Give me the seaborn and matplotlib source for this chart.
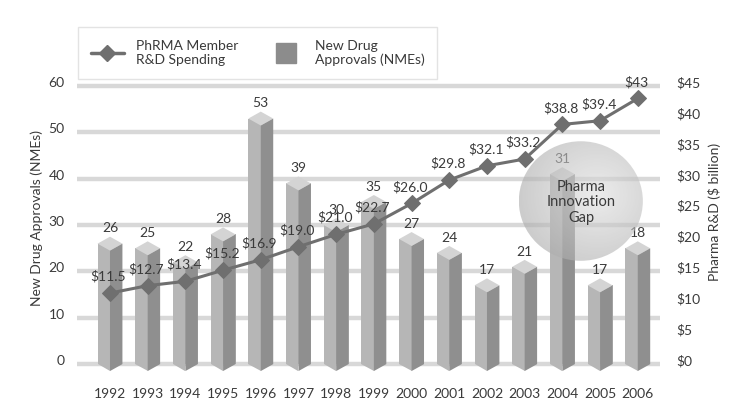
import matplotlib
matplotlib.use("Agg")
import matplotlib.pyplot as plt
import matplotlib.transforms as mtransforms
from matplotlib.patches import Polygon, Ellipse
from matplotlib.lines import Line2D
import seaborn as sns
import pandas as pd
import numpy as np

# Données
years = ["1992", "1993", "1994", "1995", "1996", "1997", "1998", "1999",
         "2000", "2001", "2002", "2003", "2004", "2005", "2006"]
# valeurs affichées au-dessus des barres
nme_labels = ["26", "25", "22", "28", "53", "39", "30", "35", "27", "24",
              "17", "21", "31", "17", "18"]
# hauteur des barres telle que dessinée dans le graphique d'origine
nme_heights = [26, 25, 22, 28, 53, 39, 30, 35, 27, 24, 17, 21, 41, 17, 25]
rd_spending = [11.5, 12.7, 13.4, 15.2, 16.9, 19.0, 21.0, 22.7, 26.0, 29.8,
               32.1, 33.2, 38.8, 39.4, 43.0]
rd_labels = ["$11.5", "$12.7", "$13.4", "$15.2", "$16.9", "$19.0", "$21.0",
             "$22.7", "$26.0", "$29.8", "$32.1", "$33.2", "$38.8", "$39.4", "$43"]
left_ticks = [0, 10, 20, 30, 40, 50, 60]
right_ticks = [0, 5, 10, 15, 20, 25, 30, 35, 40, 45]

df = pd.DataFrame({"Year": years, "NMEs": nme_heights, "RD": rd_spending})

sns.set_style("white")
plt.rcParams["font.family"] = ["Lato", "DejaVu Sans"]
text_c = "#3a3a3a"
front_c = "#b6b6b6"
side_c = "#8f8f8f"
cap_c = "#d4d4d4"
line_c = "#6f6f6f"
grid_c = "#d8d8d8"

fig = plt.figure(figsize=(7.39, 4.13), dpi=100)
ax = fig.add_axes([77 / 739, 35 / 413, 583 / 739, 296.5 / 413])

# lignes horizontales épaisses
for v in left_ticks:
    ax.axhline(v, color=grid_c, lw=3.2, zorder=1)

# barres (face avant) + faces latérales et chapeaux en pseudo 3D
w = 0.33
dz = 1.5
sns.barplot(data=df, x="Year", y="NMEs", color=front_c, saturation=1,
            width=2 * w, errorbar=None, ax=ax, zorder=2, linewidth=0)
for i, (v, lab) in enumerate(zip(nme_heights, nme_labels)):
    ax.add_patch(Polygon([(i - w, 0), (i, 0), (i, -dz)], closed=True,
                         facecolor=front_c, lw=0, zorder=2))
    ax.add_patch(Polygon([(i, -dz), (i, v - dz), (i + w, v), (i + w, 0)],
                         closed=True, facecolor=side_c, lw=0, zorder=3))
    ax.add_patch(Polygon([(i - w, v), (i, v + dz), (i + w, v), (i, v - dz)],
                         closed=True, facecolor=cap_c, lw=0, zorder=3))
    ax.annotate(lab, (i, v), xytext=(0, 11), textcoords="offset points",
                ha="center", va="center", fontsize=10, color=text_c, zorder=4)

# cercle "Pharma Innovation Gap" avec dégradé radial
cx, cy, rx, ry = 12.49, 35.2, 1.645, 12.9
circle = Ellipse((cx, cy), 2 * rx, 2 * ry, facecolor="none", edgecolor="none")
ax.add_patch(circle)
n = 200
gx, gy = np.meshgrid(np.linspace(-1, 1, n), np.linspace(1, -1, n))
dist = np.sqrt((gx - 0.25) ** 2 + (gy - 0.1) ** 2)
shade = np.clip(0.88 - 0.16 * dist, 0.68, 0.88)
rgba = np.dstack([shade, shade, shade, np.full_like(shade, 0.62)])
im = ax.imshow(rgba, extent=(cx - rx, cx + rx, cy - ry, cy + ry),
               aspect="auto", zorder=5, interpolation="bilinear")
im.set_clip_path(circle)
ax.text(cx + 0.02, cy - 0.3, "Pharma\nInnovation\nGap", ha="center", va="center",
        fontsize=10.5, color=text_c, linespacing=1.1, zorder=6)

ax.set_xlim(-0.875, 14.59)
ax.set_ylim(-3, 61)
ax.set_yticks(left_ticks)
ax.set_xlabel("")
ax.set_ylabel("New Drug Approvals (NMEs)", fontsize=10, color=text_c)
ax.yaxis.set_label_coords(-0.058, 0.54)
ax.tick_params(axis="both", length=0, labelsize=10, labelcolor=text_c)
ax.tick_params(axis="y", pad=9)
ax.tick_params(axis="x", pad=7)
sns.despine(ax=ax, left=True, bottom=True)

# courbe R&D sur l'axe de droite
ax2 = ax.twinx()
sns.lineplot(x=np.arange(len(years)), y=rd_spending, ax=ax2, color=line_c,
             lw=2.2, marker="D", markersize=8, markeredgecolor=line_c, zorder=7)
for i, (v, lab) in enumerate(zip(rd_spending, rd_labels)):
    ax2.annotate(lab, (i, v), xytext=(-1, 12), textcoords="offset points",
                 ha="center", va="center", fontsize=10, color=text_c)
ax2.set_ylim(-3 * 0.75, 61 * 0.75)
ax2.set_yticks(right_ticks)
ax2.set_yticklabels([f"${t}" for t in right_ticks])
ax2.set_ylabel("Pharma R&D ($ billion)", fontsize=10, color=text_c)
ax2.yaxis.set_label_coords(1.082, 0.56)
ax2.tick_params(axis="y", length=0, labelsize=10, labelcolor=text_c, pad=12)
for s in ax2.spines.values():
    s.set_visible(False)

# décaler légèrement les étiquettes verticales vers le haut
offset = mtransforms.ScaledTranslation(0, 0.04, fig.dpi_scale_trans)
for lab in ax.get_yticklabels() + ax2.get_yticklabels():
    lab.set_transform(lab.get_transform() + offset)

# légende
handles = [Line2D([], [], color=line_c, lw=2.5, marker="D", markersize=8),
           Line2D([], [], ls="none", marker="s", markersize=15,
                  markerfacecolor="#8c8c8c", markeredgecolor="#8c8c8c")]
labels = ["PhRMA Member\nR&D Spending", "New Drug\nApprovals (NMEs)"]
leg = fig.legend(handles, labels, ncol=2, loc="upper left",
                 bbox_to_anchor=(78 / 739, 1 - 27 / 413), borderaxespad=0,
                 frameon=True, fancybox=False, edgecolor="#dddddd", fontsize=10,
                 handlelength=2.4, handletextpad=0.9, columnspacing=2.2,
                 borderpad=0.9, labelcolor=text_c)
leg.get_frame().set_linewidth(1.0)

fig.savefig("out.png", dpi=100, facecolor="white")
